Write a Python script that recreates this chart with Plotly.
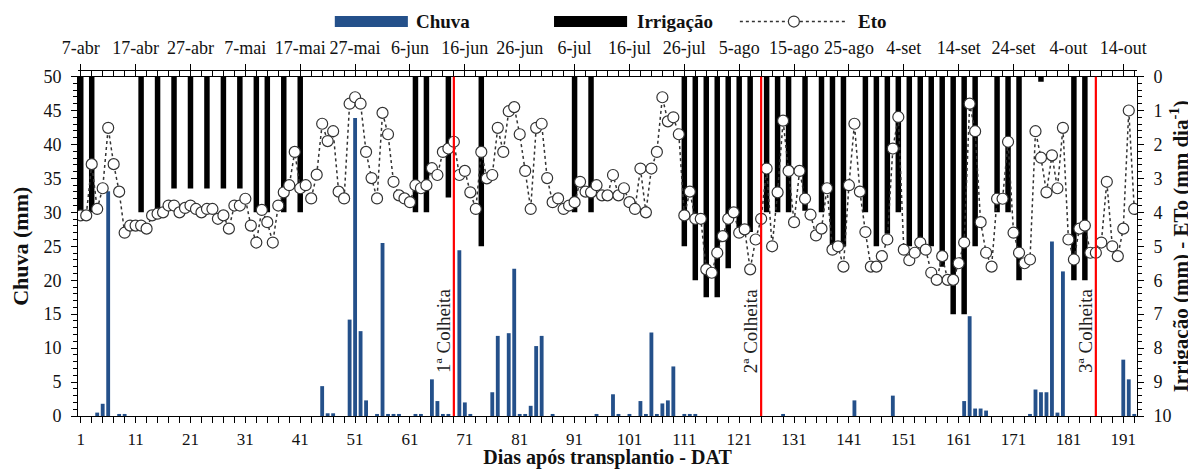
import plotly.graph_objects as go

# ---------------- data ----------------
days = list(range(1, 194))

eto = [4.09, 4.09, 2.58, 3.9, 3.29, 1.51, 2.58, 3.39, 4.6, 4.39,
       4.39, 4.39, 4.48, 4.09, 4.04, 4.0, 3.8, 3.8, 4.0, 3.87,
       3.8, 3.9, 4.0, 3.9, 3.9, 4.19, 4.09, 4.48, 3.8, 3.8,
       3.6, 4.39, 4.89, 3.93, 4.29, 4.89, 3.8, 3.41, 3.2, 2.22,
       3.29, 3.2, 3.59, 2.89, 1.39, 1.9, 1.61, 3.39, 3.59, 0.8,
       0.61, 0.8, 2.22, 2.99, 3.59, 1.07, 1.7, 3.1, 3.5, 3.59,
       3.7, 3.2, 3.29, 3.2, 2.7, 2.9, 2.22, 2.12, 1.92, 2.9,
       2.78, 3.41, 3.9, 2.22, 3.0, 2.9, 1.51, 2.22, 1.02, 0.9,
       1.7, 2.78, 3.9, 1.51, 1.39, 2.99, 3.7, 3.59, 3.9, 3.8,
       3.7, 3.1, 3.39, 3.41, 3.2, 3.5, 3.5, 2.9, 3.5, 3.29,
       3.7, 3.9, 2.71, 4.0, 2.71, 2.22, 0.61, 1.32, 1.2, 1.7,
       4.09, 3.39, 4.19, 4.19, 5.68, 5.78, 5.19, 4.7, 4.19, 4.0,
       4.6, 4.5, 5.68, 4.8, 4.19, 2.71, 5.0, 3.41, 1.3, 2.78,
       4.29, 2.78, 3.6, 4.07, 4.68, 4.48, 3.29, 5.1, 5.0, 5.6,
       3.2, 1.39, 3.39, 4.58, 5.6, 5.6, 5.29, 4.8, 2.12, 1.19,
       5.1, 5.41, 5.19, 4.89, 5.1, 5.78, 5.99, 5.29, 5.99, 5.99,
       5.5, 4.89, 0.8, 1.61, 4.29, 5.19, 5.6, 3.6, 3.6, 1.92,
       4.6, 5.19, 5.5, 5.39, 1.61, 2.39, 3.41, 2.32, 3.29, 1.51,
       4.8, 5.39, 4.48, 4.39, 5.19, 5.19, 4.89, 3.1, 5.0, 5.29,
       4.48, 1.0, 3.9]

rain_days = [4, 5, 6, 8, 9, 45, 46, 47, 50, 51, 52, 53, 55, 56, 57, 58, 59,
             62, 63, 65, 66, 67, 68, 70, 71, 72, 76, 77, 79, 80, 81, 82, 83,
             84, 85, 87, 95, 98, 99, 101, 103, 104, 105, 106, 107, 108, 109,
             111, 112, 113, 129, 142, 149, 162, 163, 164, 165, 166, 174, 175,
             176, 177, 178, 179, 180, 191, 192, 193]
rain_mm = [0.5, 1.8, 33.1, 0.3, 0.3, 4.4, 0.4, 0.4, 14.2, 43.9, 12.5, 2.3, 0.3,
           25.5, 0.3, 0.3, 0.3, 0.3, 0.3, 5.4, 2.2, 0.3, 0.3, 24.4, 2.0, 0.3,
           3.5, 11.8, 12.2, 21.7, 0.3, 0.3, 1.5, 10.3, 11.8, 0.3, 0.3, 3.2,
           0.3, 0.3, 2.2, 0.3, 12.3, 0.3, 1.85, 2.3, 7.3, 0.3, 0.3, 0.3, 0.3,
           2.3, 3.0, 2.2, 14.7, 1.1, 1.1, 0.8, 0.3, 3.9, 3.5, 3.5, 25.7, 0.5,
           21.3, 8.3, 5.4, 0.3]

irr_days = [1, 3, 12, 15, 18, 21, 24, 27, 30, 33, 35, 38, 41, 62, 64, 68, 74,
            91, 94, 111, 113, 115, 117, 119, 121, 123, 126, 128, 130, 133, 136,
            138, 140, 144, 146, 148, 150, 152, 154, 156, 158, 160, 162, 164,
            168, 170, 172, 176, 182, 184]
irr_mm = [4.0, 4.0, 4.0, 4.0, 3.3, 3.3, 3.3, 3.3, 3.3, 4.0, 4.0, 4.0, 4.0, 4.0,
          4.0, 3.56, 5.0, 4.0, 4.0, 5.0, 6.0, 6.5, 6.5, 5.65, 4.43, 4.58, 4.0,
          4.0, 4.0, 3.95, 4.0, 5.0, 5.0, 4.0, 5.0, 4.63, 4.0, 5.0, 5.0, 5.0,
          5.6, 7.0, 7.0, 5.0, 4.0, 4.0, 6.0, 0.15, 6.0, 6.0]

harvest_days = [69, 125, 186]
harvest_labels = ["1ª Colheita", "2ª Colheita", "3ª Colheita"]

tick_days = list(range(1, 192, 10))
date_labels = ["7-abr", "17-abr", "27-abr", "7-mai", "17-mai", "27-mai", "6-jun",
               "16-jun", "26-jun", "6-jul", "16-jul", "26-jul", "5-ago", "15-ago",
               "25-ago", "4-set", "14-set", "24-set", "4-out", "14-out"]

# ---------------- style ----------------
BLUE = "#24508A"
FONT = "Liberation Serif"
TXT = "#111111"

fig = go.Figure()

fig.add_trace(go.Bar(x=rain_days, y=rain_mm, name="Chuva", marker_color=BLUE,
                     marker_line_width=0, width=0.7, xaxis="x", yaxis="y",
                     showlegend=False))
fig.add_trace(go.Bar(x=irr_days, y=irr_mm, name="Irrigação", marker_color="black",
                     marker_line_width=0, width=1.0, xaxis="x", yaxis="y2",
                     showlegend=False))
fig.add_trace(go.Scatter(x=days, y=eto, name="Eto", mode="lines+markers",
                         line=dict(color="#333333", width=1.5, dash="dot"),
                         marker=dict(symbol="circle", size=11, color="white",
                                     line=dict(color="#333333", width=1.2)),
                         xaxis="x", yaxis="y2", showlegend=False))
# invisible helper so that the top (date) axis is drawn
fig.add_trace(go.Scatter(x=tick_days, y=[0] * len(tick_days), mode="markers",
                         marker=dict(opacity=0), hoverinfo="skip",
                         xaxis="x2", yaxis="y", showlegend=False))

# harvest lines & labels
for d, lab in zip(harvest_days, harvest_labels):
    fig.add_shape(type="line", xref="x", yref="y", x0=d, x1=d, y0=0, y1=50,
                  line=dict(color="#FF0000", width=2.2), layer="above")
    fig.add_annotation(x=d - 2, y=12.5, xref="x", yref="y", text=lab,
                       textangle=-90, showarrow=False,
                       font=dict(family=FONT, size=19, color="#222222"))

# ---------------- custom legend ----------------
ly = 1.14
fig.add_shape(type="line", xref="paper", yref="paper", x0=0.2425, x1=0.3115,
              y0=ly, y1=ly, line=dict(color=BLUE, width=11))
fig.add_annotation(x=0.3175, y=ly, xref="paper", yref="paper", text="<b>Chuva</b>",
                   xanchor="left", yanchor="middle", showarrow=False,
                   font=dict(family=FONT, size=19, color=TXT))
fig.add_shape(type="line", xref="paper", yref="paper", x0=0.4495, x1=0.5185,
              y0=ly, y1=ly, line=dict(color="black", width=11))
fig.add_annotation(x=0.5255, y=ly, xref="paper", yref="paper", text="<b>Irrigação</b>",
                   xanchor="left", yanchor="middle", showarrow=False,
                   font=dict(family=FONT, size=19, color=TXT))
fig.add_shape(type="line", xref="paper", yref="paper", x0=0.625, x1=0.727,
              y0=ly, y1=ly, line=dict(color="#333333", width=1.5, dash="dot"))
fig.add_shape(type="circle", xref="paper", yref="paper", xsizemode="pixel",
              ysizemode="pixel", xanchor=0.676, yanchor=ly, x0=-5.5, x1=5.5,
              y0=-5.5, y1=5.5, fillcolor="white",
              line=dict(color="#333333", width=1.2))
fig.add_annotation(x=0.735, y=ly, xref="paper", yref="paper", text="<b>Eto</b>",
                   xanchor="left", yanchor="middle", showarrow=False,
                   font=dict(family=FONT, size=19, color=TXT))

tickfont = dict(family=FONT, size=18, color=TXT)
titlefont = dict(family=FONT, size=21, color=TXT)

# the page body adds an 8 px offset, so the figure is sized to the remaining window
fig.update_layout(
    width=1188, height=461,
    margin=dict(l=70, r=59, t=62, b=53),
    paper_bgcolor="white", plot_bgcolor="white",
    barmode="overlay",
    showlegend=False,
    xaxis=dict(range=[0.5, 193.5], tickvals=tick_days, ticktext=[str(v) for v in tick_days],
               ticks="outside", ticklen=6, tickcolor="black", tickwidth=1,
               minor=dict(dtick=2, tick0=1, ticks="outside", ticklen=6,
                          tickcolor="black", tickwidth=1),
               showline=True, linecolor="black", linewidth=1, mirror=True,
               showgrid=False, zeroline=False,
               tickfont=dict(family=FONT, size=17, color=TXT),
               ticklabelstandoff=2, automargin=False,
               title=dict(text="<b>Dias após transplantio - DAT</b>",
                          font=dict(family=FONT, size=20, color=TXT), standoff=3),
               anchor="y"),
    xaxis2=dict(range=[0.5, 193.5], overlaying="x", side="top", anchor="free",
                position=1, tickvals=tick_days, ticktext=date_labels,
                ticks="outside", ticklen=6, tickcolor="black", tickwidth=1,
                minor=dict(dtick=2, tick0=1, ticks="inside", ticklen=6,
                           tickcolor="black", tickwidth=1),
                showline=True, linecolor="black", linewidth=1,
                showgrid=False, zeroline=False, tickfont=tickfont,
                ticklabelstandoff=3, automargin=False),
    yaxis=dict(range=[0, 50], domain=[0, 0.981], dtick=5, ticks="outside", ticklen=6,
               tickcolor="black", minor=dict(dtick=1, ticks="outside", ticklen=4,
                                             tickcolor="black"),
               showline=True, linecolor="black", linewidth=1, showgrid=False,
               zeroline=False, tickfont=tickfont, ticklabelstandoff=6,
               automargin=False,
               title=dict(text="<b>Chuva (mm)</b>", font=dict(family=FONT, size=22, color=TXT),
                          standoff=10)),
    yaxis2=dict(range=[10, 0], overlaying="y", side="right", anchor="x", dtick=1,
                ticks="outside", ticklen=6, tickcolor="black",
                minor=dict(dtick=0.2, ticks="outside", ticklen=4, tickcolor="black"),
                showline=True, linecolor="black", linewidth=1, showgrid=False,
                zeroline=False, tickfont=tickfont, ticklabelstandoff=6,
                automargin=False,
                title=dict(text="<b>Irrigação (mm) - ETo (mm dia<sup>-1</sup>)</b>",
                           font=titlefont, standoff=2)),
)

fig.write_html("out.html")
